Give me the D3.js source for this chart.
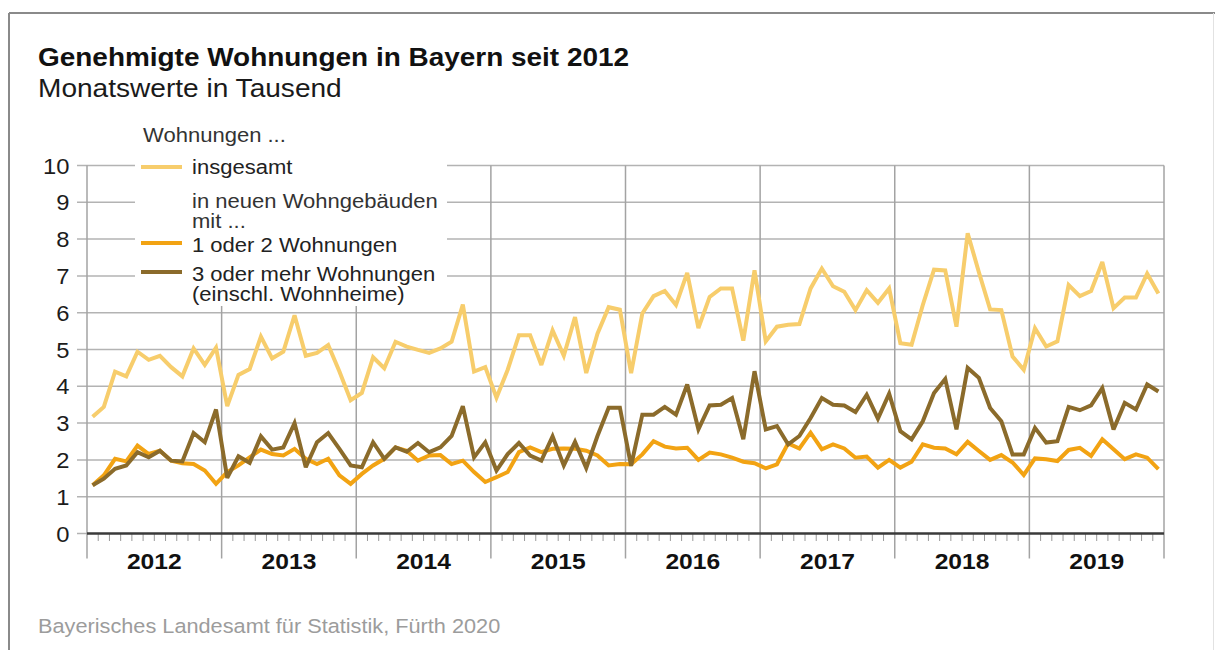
<!DOCTYPE html>
<html>
<head>
<meta charset="utf-8">
<script src="https://cdn.jsdelivr.net/npm/d3@7"></script>
<style>
  html, body { margin: 0; padding: 0; background: #fff; }
  svg { display: block; font-family: "Liberation Sans", Arial, Helvetica, sans-serif; }
</style>
</head>
<body>
<script>
// Genehmigte Wohnungen in Bayern, Monatswerte in Tausend (Jan 2012 – Dez 2019)
const years = [2012, 2013, 2014, 2015, 2016, 2017, 2018, 2019];
const yTicks = [0, 1, 2, 3, 4, 5, 6, 7, 8, 9, 10];

const insgesamt = [
  3.17, 3.44, 4.40, 4.27, 4.94, 4.72, 4.83, 4.52, 4.27, 5.03, 4.58, 5.05,
  3.46, 4.31, 4.47, 5.35, 4.76, 4.94, 5.93, 4.83, 4.91, 5.12, 4.40, 3.62,
  3.82, 4.79, 4.49, 5.21, 5.08, 4.99, 4.91, 5.03, 5.21, 6.22, 4.40, 4.52,
  3.69, 4.45, 5.39, 5.39, 4.58, 5.52, 4.83, 5.88, 4.36, 5.43, 6.15, 6.08,
  4.36, 5.98, 6.45, 6.59, 6.21, 7.08, 5.58, 6.43, 6.66, 6.66, 5.24, 7.15,
  5.22, 5.62, 5.67, 5.69, 6.66, 7.20, 6.72, 6.57, 6.07, 6.61, 6.27, 6.66,
  5.17, 5.13, 6.21, 7.17, 7.15, 5.62, 8.16, 7.10, 6.09, 6.07, 4.81, 4.45,
  5.58, 5.08, 5.22, 6.75, 6.45, 6.59, 7.38, 6.12, 6.41, 6.41, 7.06, 6.52
];

const einOderZwei = [
  1.31, 1.58, 2.03, 1.96, 2.39, 2.16, 2.25, 1.98, 1.91, 1.89, 1.71, 1.35,
  1.67, 1.85, 2.07, 2.28, 2.16, 2.12, 2.30, 2.03, 1.89, 2.03, 1.58, 1.35,
  1.62, 1.85, 2.03, 2.34, 2.25, 1.98, 2.12, 2.13, 1.89, 1.98, 1.67, 1.40,
  1.53, 1.67, 2.21, 2.34, 2.21, 2.30, 2.31, 2.30, 2.25, 2.12, 1.85, 1.89,
  1.88, 2.15, 2.51, 2.36, 2.31, 2.33, 2.00, 2.20, 2.15, 2.06, 1.95, 1.91,
  1.77, 1.88, 2.45, 2.31, 2.74, 2.29, 2.42, 2.31, 2.06, 2.09, 1.79, 2.00,
  1.79, 1.95, 2.42, 2.33, 2.31, 2.15, 2.49, 2.24, 2.00, 2.13, 1.93, 1.59,
  2.04, 2.02, 1.97, 2.27, 2.33, 2.11, 2.56, 2.29, 2.02, 2.15, 2.06, 1.75
];

const dreiUndMehr = [
  1.31, 1.49, 1.76, 1.85, 2.21, 2.07, 2.25, 1.98, 1.96, 2.73, 2.48, 3.37,
  1.51, 2.10, 1.92, 2.64, 2.28, 2.34, 3.00, 1.80, 2.48, 2.73, 2.30, 1.85,
  1.80, 2.48, 2.03, 2.34, 2.22, 2.46, 2.21, 2.34, 2.65, 3.46, 2.07, 2.48,
  1.71, 2.16, 2.46, 2.12, 1.98, 2.64, 1.85, 2.49, 1.78, 2.65, 3.42, 3.42,
  1.84, 3.23, 3.23, 3.44, 3.23, 4.05, 2.83, 3.48, 3.50, 3.68, 2.56, 4.41,
  2.83, 2.92, 2.42, 2.65, 3.14, 3.68, 3.50, 3.48, 3.30, 3.77, 3.12, 3.80,
  2.78, 2.56, 3.05, 3.82, 4.20, 2.83, 4.50, 4.23, 3.41, 3.05, 2.15, 2.15,
  2.87, 2.47, 2.51, 3.44, 3.35, 3.48, 3.95, 2.83, 3.55, 3.37, 4.05, 3.86
];

const legendHeader = "Wohnungen ...";
const legendNote = ["in neuen Wohngebäuden", "mit ..."];
const seriesNames = ["insgesamt", "1 oder 2 Wohnungen", ["3 oder mehr Wohnungen", "(einschl. Wohnheime)"]];
const colors = ["#f7cd6c", "#f2a313", "#8b6b2b"];

// Month keys "YYYY-MM" for the band scale
const months = years.flatMap(yr => d3.range(1, 13).map(m => `${yr}-${String(m).padStart(2, "0")}`));

const W = 1215, H = 650;
const svg = d3.select("body").append("svg").attr("width", W).attr("height", H);

// frame
svg.append("line").attr("x1", 9).attr("x2", W).attr("y1", 13).attr("y2", 13)
  .attr("stroke", "#8a8a8a").attr("stroke-width", 2);
svg.append("line").attr("x1", 9).attr("x2", 9).attr("y1", 13).attr("y2", H)
  .attr("stroke", "#8a8a8a").attr("stroke-width", 2);
svg.append("line").attr("x1", W - 1.5).attr("x2", W - 1.5).attr("y1", 13).attr("y2", H)
  .attr("stroke", "#e2e2e2").attr("stroke-width", 1);

// text helper with slight horizontal widening of the glyphs
function label(px, py, txt, o = {}) {
  return svg.append("text")
    .attr("transform", `translate(${px},${py}) scale(${o.sx || 1},1)`)
    .attr("text-anchor", o.anchor || "start")
    .attr("font-size", o.size || 19)
    .attr("font-weight", o.weight || "normal")
    .attr("fill", o.fill || "#1c1c1c")
    .text(txt);
}

const plotLeft = 87, plotRight = 1164, plotTop = 165.5, plotBottom = 533.5;

const x = d3.scaleBand().domain(months).range([plotLeft, plotRight]).padding(0);
const y = d3.scaleLinear().domain([0, 10]).range([plotBottom, plotTop]);
const cx = k => x(k) + x.bandwidth() / 2;

// horizontal grid
svg.append("g").selectAll("line").data(yTicks.filter(t => t > 0)).join("line")
  .attr("x1", plotLeft - 10).attr("x2", plotRight)
  .attr("y1", d => y(d)).attr("y2", d => y(d))
  .attr("stroke", "#b3b3b3").attr("stroke-width", 1.5);
svg.append("line").attr("x1", plotLeft - 10).attr("x2", plotLeft)
  .attr("y1", y(0)).attr("y2", y(0)).attr("stroke", "#b3b3b3").attr("stroke-width", 1.5);

// year separators (extend below the axis)
const yearEdges = years.map(yr => x(`${yr}-01`)).concat([plotRight]);
svg.append("g").selectAll("line").data(yearEdges).join("line")
  .attr("x1", d => d).attr("x2", d => d)
  .attr("y1", plotTop).attr("y2", plotBottom + 25)
  .attr("stroke", "#a3a3a3").attr("stroke-width", 1.5);

// month ticks
svg.append("g").selectAll("line").data(months.filter(m => !m.endsWith("-01"))).join("line")
  .attr("x1", d => x(d)).attr("x2", d => x(d))
  .attr("y1", plotBottom).attr("y2", plotBottom + 7.5)
  .attr("stroke", "#9a9a9a").attr("stroke-width", 1);

// baseline
svg.append("line").attr("x1", plotLeft).attr("x2", plotRight)
  .attr("y1", y(0)).attr("y2", y(0)).attr("stroke", "#3a3a3a").attr("stroke-width", 2.5);

// y labels
yTicks.forEach(t => label(69.5, y(t) + 8, t, { anchor: "end", size: 22, sx: 1.08 }));

// year labels
years.forEach(yr => {
  const xm = (x(`${yr}-01`) + x(`${yr}-12`) + x.bandwidth()) / 2;
  label(xm, 569, yr, { anchor: "middle", size: 22, weight: "bold", sx: 1.12, fill: "#111" });
});

// legend background
svg.append("rect").attr("x", 135).attr("y", 152).attr("width", 312).attr("height", 154).attr("fill", "#fff");

// series lines
const line = d3.line().x((d, i) => cx(months[i])).y(d => y(d));
[insgesamt, einOderZwei, dreiUndMehr].forEach((s, k) => {
  svg.append("path").datum(s).attr("d", line)
    .attr("fill", "none").attr("stroke", colors[k]).attr("stroke-width", 4)
    .attr("stroke-linejoin", "miter").attr("stroke-miterlimit", 3);
});

// titles
label(38, 66, "Genehmigte Wohnungen in Bayern seit 2012", { size: 26, weight: "bold", sx: 1.075, fill: "#111" });
label(38, 97, "Monatswerte in Tausend", { size: 26, sx: 1.08, fill: "#1a1a1a" });

// legend
const lgX = 192, lgS = 19.5, lgSx = 1.13;
label(143, 142, legendHeader, { size: lgS, sx: lgSx, fill: "#333" });
label(lgX, 174, seriesNames[0], { size: lgS, sx: lgSx, fill: "#222" });
label(lgX, 208, legendNote[0], { size: lgS, sx: lgSx, fill: "#333" });
label(lgX, 228, legendNote[1], { size: lgS, sx: lgSx, fill: "#333" });
label(lgX, 252, seriesNames[1], { size: lgS, sx: lgSx, fill: "#222" });
label(lgX, 281, seriesNames[2][0], { size: lgS, sx: lgSx, fill: "#222" });
label(lgX, 301, seriesNames[2][1], { size: lgS, sx: lgSx, fill: "#222" });
[167, 243, 272].forEach((ly, k) => {
  svg.append("line").attr("x1", 141).attr("x2", 182).attr("y1", ly).attr("y2", ly)
    .attr("stroke", colors[k]).attr("stroke-width", 4);
});

// source
label(38, 633, "Bayerisches Landesamt für Statistik, Fürth 2020", { size: 20.5, sx: 1.06, fill: "#9c9c9c" });
</script>
</body>
</html>
